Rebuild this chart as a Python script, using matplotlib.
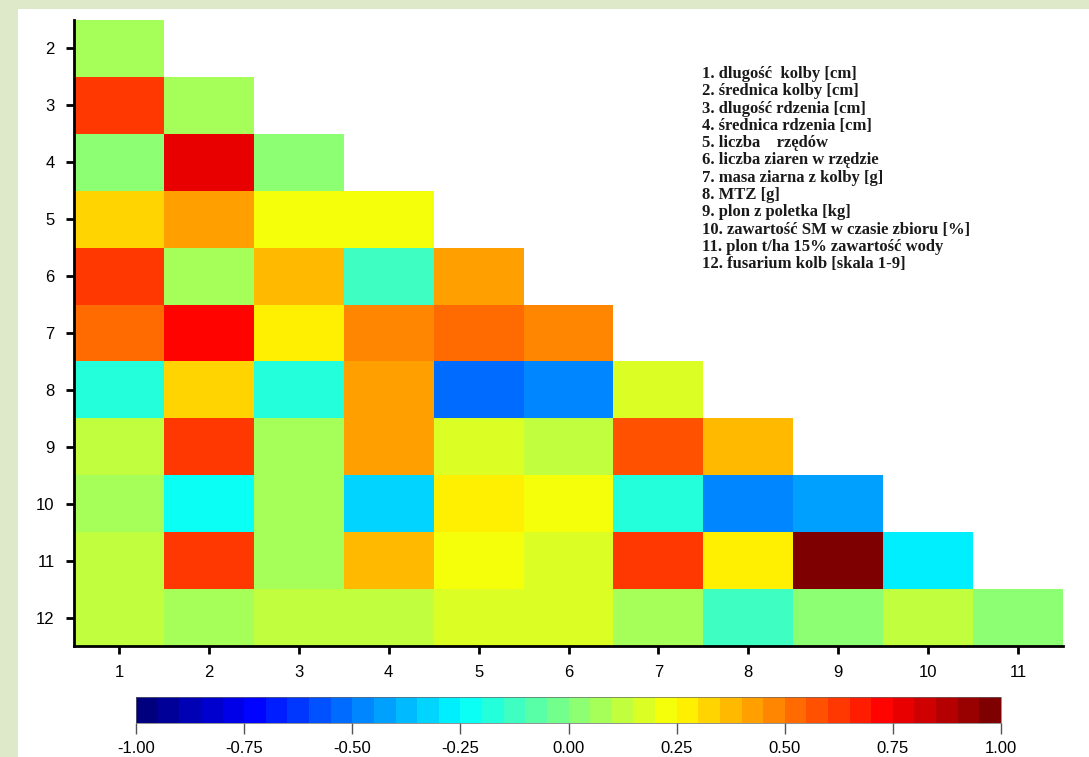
import numpy as np
import matplotlib
matplotlib.use("Agg")
import matplotlib.pyplot as plt
from matplotlib.colors import LinearSegmentedColormap, BoundaryNorm
from matplotlib.patches import Rectangle

# lower-triangular correlation matrix: rows 2..12, columns 1..11
rows = list(range(2, 13))
cols = list(range(1, 12))
r2 = [0.06]
r3 = [0.63, 0.06]
r4 = [0.02, 0.78, 0.01]
r5 = [0.34, 0.44, 0.24, 0.21]
r6 = [0.63, 0.06, 0.39, -0.13, 0.44]
r7 = [0.53, 0.73, 0.29, 0.48, 0.53, 0.48]
r8 = [-0.18, 0.34, -0.18, 0.44, -0.55, -0.47, 0.17]
r9 = [0.14, 0.63, 0.06, 0.45, 0.17, 0.12, 0.58, 0.39]
r10 = [0.07, -0.25, 0.06, -0.33, 0.29, 0.24, -0.18, -0.47, -0.42]
r11 = [0.14, 0.63, 0.06, 0.39, 0.21, 0.17, 0.63, 0.30, 0.98, -0.27]
r12 = [0.12, 0.07, 0.12, 0.12, 0.17, 0.17, 0.06, -0.13, 0.02, 0.12, 0.02]
all_rows = [r2, r3, r4, r5, r6, r7, r8, r9, r10, r11, r12]

legend_lines = [
    "1. dlugość  kolby [cm]",
    "2. średnica kolby [cm]",
    "3. dlugość rdzenia [cm]",
    "4. średnica rdzenia [cm]",
    "5. liczba    rzędów",
    "6. liczba ziaren w rzędzie",
    "7. masa ziarna z kolby [g]",
    "8. MTZ [g]",
    "9. plon z poletka [kg]",
    "10. zawartość SM w czasie zbioru [%]",
    "11. plon t/ha 15% zawartość wody",
    "12. fusarium kolb [skala 1-9]",
]
cbar_ticks = [-1.0, -0.75, -0.5, -0.25, 0.0, 0.25, 0.5, 0.75, 1.0]

grid = np.full((len(rows), len(cols)), np.nan)
for i, vals in enumerate(all_rows):
    grid[i, :len(vals)] = vals

jet = LinearSegmentedColormap.from_list(
    "rjet", ["#00007F", "#0000FF", "#007FFF", "#00FFFF", "#7FFF7F",
             "#FFFF00", "#FF7F00", "#FF0000", "#7F0000"], N=40)
bounds = np.linspace(-1, 1, 41)
norm = BoundaryNorm(bounds, jet.N)

fig = plt.figure(figsize=(10.89, 7.57), dpi=100, facecolor="#dde9c9")
fig.patches.append(Rectangle((18 / 1089, 0), 1, 1 - 9 / 757, transform=fig.transFigure,
                             facecolor="white", edgecolor="none", zorder=-10))

ax = fig.add_axes([74 / 1089, 1 - 646 / 757, (1063 - 74) / 1089, (646 - 20) / 757])
ax.set_facecolor("white")
xe = np.arange(0.5, 12.0, 1.0)
ye = np.arange(1.5, 13.0, 1.0)
ax.pcolormesh(xe, ye, np.ma.masked_invalid(grid), cmap=jet, norm=norm)
ax.set_xlim(0.5, 11.5)
ax.set_ylim(12.5, 1.5)
ax.set_xticks(cols)
ax.set_yticks(rows)
for s in ["top", "right"]:
    ax.spines[s].set_visible(False)
for s in ["left", "bottom"]:
    ax.spines[s].set_linewidth(2)
ax.tick_params(direction="out", length=6, width=2, labelsize=12, pad=8)
for lab in ax.get_xticklabels() + ax.get_yticklabels():
    lab.set_fontfamily("Liberation Sans")

cax = fig.add_axes([136 / 1089, 1 - 723 / 757, (1001 - 136) / 1089, 26 / 757])
sm = plt.cm.ScalarMappable(cmap=jet, norm=norm)
cb = fig.colorbar(sm, cax=cax, orientation="horizontal", ticks=cbar_ticks)
cb.ax.minorticks_off()
cb.outline.set_linewidth(0.5)
cb.outline.set_edgecolor("#666666")
cb.ax.set_xticklabels([f"{t:.2f}" for t in cbar_ticks], fontfamily="Liberation Sans")
cb.ax.tick_params(direction="out", length=8, width=1, color="#555555", labelsize=12, pad=5)

y0 = 1 - 74 / 757
for k, line in enumerate(legend_lines):
    fig.text(702 / 1089, y0 - k * 17.3 / 757, line, fontfamily="Liberation Serif",
             fontweight="bold", fontsize=12, va="center", ha="left", color="#1a1a1a")

fig.savefig("out.png", dpi=100, facecolor=fig.get_facecolor())
